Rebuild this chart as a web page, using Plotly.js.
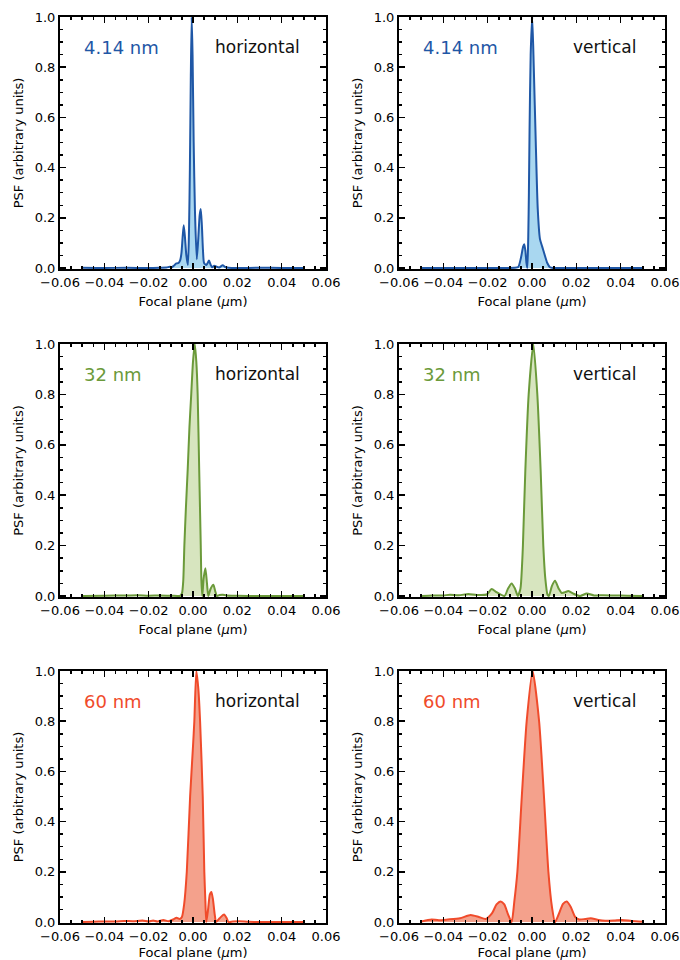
<!DOCTYPE html>
<html>
<head>
<meta charset="utf-8">
<script src="https://cdn.plot.ly/plotly-3.0.1.min.js"></script>
<style>html,body{margin:0;padding:0;background:#fff;}#chart{width:680px;height:960px;}</style>
</head>
<body>
<div id="chart"></div>
<script>
// ---- Data (focal plane position in µm, PSF in arbitrary units) ----
const x414h = [-0.050,-0.040,-0.030,-0.020,-0.015,-0.0120,-0.0104,-0.0095,-0.0085,-0.0075,-0.0065,-0.0058,-0.0052,-0.0047,-0.0042,-0.0037,-0.0030,-0.0023,-0.0018,-0.0014,-0.0010,-0.0006,-0.0002,0.0003,0.0009,0.0017,0.0024,0.0030,0.0035,0.0040,0.0045,0.0050,0.0060,0.0066,0.0072,0.0080,0.0087,0.0096,0.0104,0.0118,0.0134,0.0145,0.0160,0.020,0.030,0.040,0.050];
const y414h = [0.001,0.0,0.001,0.0,0.001,0.002,0.005,0.003,0.01,0.018,0.02,0.03,0.06,0.12,0.17,0.13,0.05,0.012,0.15,0.4,0.75,1.0,0.85,0.5,0.22,0.035,0.12,0.21,0.235,0.17,0.07,0.02,0.012,0.02,0.03,0.012,0.003,0.009,0.006,0.002,0.011,0.004,0.001,0.0,0.001,0.0,0.0];

const x414v = [-0.050,-0.040,-0.030,-0.020,-0.012,-0.0080,-0.0062,-0.0050,-0.0040,-0.0035,-0.0030,-0.0025,-0.0021,-0.0017,-0.0014,-0.0011,-0.0006,0.0001,0.0008,0.0017,0.0026,0.0036,0.0046,0.0058,0.0069,0.0081,0.0095,0.012,0.020,0.030,0.040,0.050];
const y414v = [0.0,0.0,0.0,0.0,0.0,0.001,0.004,0.04,0.085,0.095,0.07,0.02,0.0,0.12,0.3,0.55,0.85,1.0,0.8,0.5,0.234,0.115,0.085,0.05,0.02,0.003,0.0,0.0,0.0,0.0,0.0,0.0];

const x32h = [-0.050,-0.040,-0.030,-0.025,-0.020,-0.015,-0.010,-0.0070,-0.0059,-0.0050,-0.0044,-0.0039,-0.0032,-0.0024,-0.0016,-0.0008,0.0000,0.0008,0.0015,0.0021,0.0028,0.0032,0.0035,0.0038,0.0042,0.0048,0.0056,0.0063,0.0069,0.0080,0.0092,0.0100,0.0108,0.0120,0.0134,0.0150,0.020,0.030,0.040,0.050];
const y32h = [0.0,0.001,0.002,0.003,0.001,0.002,0.001,0.0,0.0,0.01,0.06,0.2,0.35,0.5,0.67,0.8,0.93,1.0,0.93,0.8,0.5,0.33,0.2,0.06,0.0,0.07,0.11,0.05,0.0,0.03,0.045,0.02,0.0,0.004,0.005,0.002,0.001,0.0,0.0,0.0];

const x32v = [-0.050,-0.045,-0.040,-0.037,-0.033,-0.0287,-0.025,-0.0204,-0.0182,-0.0160,-0.0124,-0.0108,-0.0092,-0.0077,-0.0064,-0.0052,-0.0045,-0.0041,-0.0030,-0.0015,0.0006,0.0024,0.0039,0.0051,0.0060,0.0070,0.0076,0.0090,0.0104,0.0120,0.0134,0.0150,0.0164,0.0190,0.0217,0.0247,0.028,0.032,0.037,0.043,0.050];
const y32v = [0.0,0.002,0.002,0.005,0.003,0.008,0.004,0.006,0.028,0.015,0.0,0.03,0.05,0.03,0.0,0.03,0.12,0.2,0.5,0.8,1.0,0.8,0.5,0.2,0.07,0.005,0.0,0.04,0.06,0.03,0.012,0.015,0.02,0.008,0.0,0.01,0.002,0.003,0.002,0.001,0.0];

const x60h = [-0.050,-0.045,-0.040,-0.035,-0.031,-0.027,-0.0227,-0.020,-0.018,-0.016,-0.0134,-0.011,-0.0090,-0.0074,-0.0060,-0.0050,-0.0040,-0.0028,-0.0013,0.0000,0.0006,0.0015,0.0024,0.0032,0.0044,0.0051,0.0056,0.0060,0.0068,0.0076,0.0083,0.0090,0.0098,0.0104,0.0120,0.0140,0.0152,0.0160,0.018,0.021,0.025,0.030,0.040,0.050];
const y60h = [0.0,0.001,0.002,0.002,0.004,0.003,0.006,0.002,0.006,0.002,0.008,0.003,0.01,0.017,0.012,0.02,0.07,0.2,0.5,0.7,0.8,1.0,0.93,0.8,0.5,0.2,0.08,0.0,0.05,0.11,0.12,0.09,0.03,0.0,0.015,0.03,0.015,0.0,0.002,0.003,0.001,0.0,0.0,0.0];

const x60v = [-0.050,-0.047,-0.0453,-0.042,-0.038,-0.0325,-0.0277,-0.024,-0.0209,-0.018,-0.0160,-0.0141,-0.0125,-0.0108,-0.0092,-0.0080,-0.0066,-0.0046,-0.0024,0.0003,0.0032,0.0054,0.0074,0.0090,0.0104,0.0120,0.0140,0.0157,0.0175,0.0195,0.0213,0.0240,0.0265,0.030,0.033,0.037,0.0405,0.045,0.050];
const y60v = [0.002,0.008,0.01,0.007,0.01,0.015,0.028,0.02,0.012,0.035,0.07,0.082,0.07,0.03,0.0,0.08,0.2,0.5,0.8,1.0,0.8,0.5,0.2,0.06,0.0,0.03,0.072,0.082,0.06,0.02,0.01,0.012,0.015,0.008,0.005,0.006,0.008,0.004,0.001];

const wavelengthLabels = ['4.14 nm','32 nm','60 nm'];
const directionLabels = ['horizontal','vertical'];
const xTitle = 'Focal plane (<i>µ</i>m)';
const yTitle = 'PSF (arbitrary units)';

// ---- Styling ----
const lineColors = ['#1f57a6','#6b9a3a','#f04b2b'];
const fillColors = ['#a9d7f0','#d7e5bf','#f4a18c'];
const FONT = 'DejaVu Sans, Liberation Sans, sans-serif';

const panels = [
  [x414h,y414h,0,0],[x414v,y414v,0,1],
  [x32h,y32h,1,0],[x32v,y32v,1,1],
  [x60h,y60h,2,0],[x60v,y60v,2,1]
];
const xDomains = [[60/680,326/680],[399/680,665/680]];
const yDomains = [[1-269/960,1-17/960],[1-597/960,1-344/960],[1-923/960,1-671/960]];

const traces = [];
const layout = {
  width:680, height:960,
  margin:{l:0,r:0,t:0,b:0},
  paper_bgcolor:'#ffffff', plot_bgcolor:'#ffffff',
  showlegend:false,
  font:{family:FONT,size:12,color:'#000'},
  annotations:[]
};

panels.forEach((p,i)=>{
  const [xs,ys,row,col] = p;
  const n = i+1;
  const xa = 'x'+(n===1?'':n), ya = 'y'+(n===1?'':n);
  traces.push({
    type:'scatter', mode:'lines', x:xs, y:ys,
    xaxis:xa, yaxis:ya,
    fill:'tozeroy', fillcolor:fillColors[row],
    line:{color:lineColors[row], width:2, shape:'spline', smoothing:0.6},
    hoverinfo:'skip'
  });
  const axCommon = {
    showline:true, linecolor:'#000', linewidth:2, mirror:'ticks',
    ticks:'inside', ticklen:6, tickwidth:1.5, tickcolor:'#000',
    showgrid:false, zeroline:false,
    tickfont:{family:FONT,size:13,color:'#000'}
  };
  layout['xaxis'+(n===1?'':n)] = Object.assign({}, axCommon, {
    domain:xDomains[col], anchor:ya, range:[-0.06,0.06],
    tick0:-0.06, dtick:0.02, tickformat:'.2f', tickangle:0,
    minor:{ticks:'inside', dtick:0.005, tick0:-0.06, ticklen:3, tickwidth:1.5, tickcolor:'#000'},
    title:{text:xTitle, font:{family:FONT,size:13,color:'#000'}, standoff:8}
  });
  layout['yaxis'+(n===1?'':n)] = Object.assign({}, axCommon, {
    domain:yDomains[row], anchor:xa, range:[-0.004,1.0],
    tick0:0, dtick:0.2, tickformat:'.1f',
    minor:{ticks:'inside', dtick:0.05, tick0:0, ticklen:3, tickwidth:1.5, tickcolor:'#000'},
    title:{text:yTitle, font:{family:FONT,size:13,color:'#000'}, standoff:8}
  });
  layout.annotations.push({
    xref:xa, yref:ya, x:-0.05, y:0.88, xanchor:'left', yanchor:'middle',
    text:wavelengthLabels[row], showarrow:false,
    font:{family:FONT,size:18,color:lineColors[row]}
  });
  layout.annotations.push({
    xref:xa, yref:ya, x:(col===0?0.049:0.048), y:0.88, xanchor:'right', yanchor:'middle',
    text:directionLabels[col], showarrow:false,
    font:{family:FONT,size:17,color:'#111'}
  });
});

Plotly.newPlot('chart', traces, layout, {staticPlot:true, displayModeBar:false});
</script>
</body>
</html>
